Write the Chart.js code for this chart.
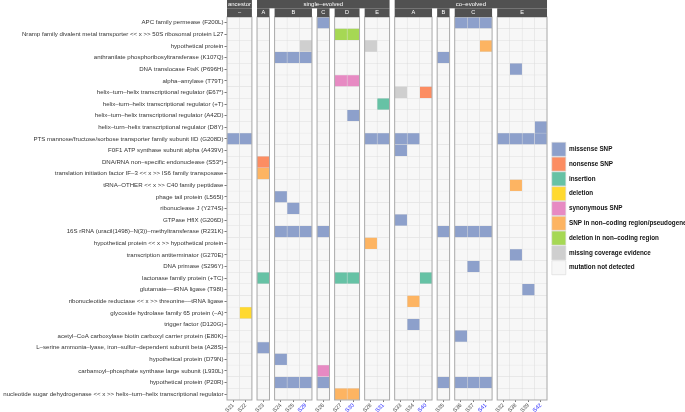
<!DOCTYPE html>
<html><head><meta charset="utf-8">
<script src="https://cdn.jsdelivr.net/npm/chart.js@4/dist/chart.umd.min.js"></script>
<style>html,body{margin:0;padding:0;background:#fff;overflow:hidden;}#wrap{width:685px;height:420px;}</style>
</head><body><div id="wrap"><canvas id="c" width="685" height="420"></canvas></div>
<script>
// ---------------- data ----------------
const geneLabels = [
  'APC family permease (F200L)',
  'Nramp family divalent metal transporter << x >> 50S ribosomal protein L27',
  'hypothetical protein',
  'anthranilate phosphoribosyltransferase (K107Q)',
  'DNA translocase FtsK (P696H)',
  'alpha–amylase (T79T)',
  'helix–turn–helix transcriptional regulator (E67*)',
  'helix–turn–helix transcriptional regulator (+T)',
  'helix–turn–helix transcriptional regulator (A42D)',
  'helix–turn–helix transcriptional regulator (D8Y)',
  'PTS mannose/fructose/sorbose transporter family subunit IID (G208D)',
  'F0F1 ATP synthase subunit alpha (A439V)',
  'DNA/RNA non–specific endonuclease (S53*)',
  'translation initiation factor IF–3 << x >> IS6 family transposase',
  'tRNA–OTHER << x >> C40 family peptidase',
  'phage tail protein (L565I)',
  'ribonuclease J (Y274S)',
  'GTPase HflX (G206D)',
  '16S rRNA (uracil(1498)–N(3))–methyltransferase (R231K)',
  'hypothetical protein << x >> hypothetical protein',
  'transcription antiterminator (G270E)',
  'DNA primase (S296Y)',
  'lactonase family protein (+TC)',
  'glutamate––tRNA ligase (T98I)',
  'ribonucleotide reductase << x >> threonine––tRNA ligase',
  'glycoside hydrolase family 65 protein (–A)',
  'trigger factor (D120G)',
  'acetyl–CoA carboxylase biotin carboxyl carrier protein (E80K)',
  'L–serine ammonia–lyase, iron–sulfur–dependent subunit beta (A28S)',
  'hypothetical protein (D79N)',
  'carbamoyl–phosphate synthase large subunit (L930L)',
  'hypothetical protein (P20R)',
  'nucleotide sugar dehydrogenase << x >> helix–turn–helix transcriptional regulator'
];
const samples = ['S21','S22','S23','S24','S25','S29','S26','S27','S30','S28','S31',
                 'S33','S34','S40','S35','S36','S37','S41','S32','S38','S39','S42'];
const highlightedSamples = ['S29','S30','S31','S40','S41','S42'];
const panelLetters = ['–','A','B','C','D','E','A','B','C','E'];
const panelSizes   = [2,1,3,1,2,2,3,1,3,4];
const panelGroup   = [0,1,1,1,1,1,2,2,2,2];
const groupNames   = ['ancestor','single–evolved','co–evolved'];
const typeCodes  = ['m','n','i','d','s','p','g','x','.'];
const typeNames  = ['missense SNP','nonsense SNP','insertion','deletion','synonymous SNP',
                    'SNP in non–coding region/pseudogene','deletion in non–coding region',
                    'missing coverage evidence','mutation not detected'];
const typeColors = ['#8DA0CB','#FC8D62','#66C2A5','#FFD92F','#E78AC3','#FDB462','#A6D854','#CFCFCF','#F7F7F7'];
// one string per gene row, one character per sample (panels separated by spaces)
const calls = [
  '.. . ... m .. .. ... . mmm ....',
  '.. . ... . gg .. ... . ... ....',
  '.. . ..x . .. x. ... . ..p ....',
  '.. . mmm . .. .. ... m ... ....',
  '.. . ... . .. .. ... . ... .m..',
  '.. . ... . ss .. ... . ... ....',
  '.. . ... . .. .. x.n . ... ....',
  '.. . ... . .. .i ... . ... ....',
  '.. . ... . .m .. ... . ... ....',
  '.. . ... . .. .. ... . ... ...m',
  'mm . ... . .. mm mm. . ... mmmm',
  '.. . ... . .. .. m.. . ... ....',
  '.. n ... . .. .. ... . ... ....',
  '.. p ... . .. .. ... . ... ....',
  '.. . ... . .. .. ... . ... .p..',
  '.. . m.. . .. .. ... . ... ....',
  '.. . .m. . .. .. ... . ... ....',
  '.. . ... . .. .. m.. . ... ....',
  '.. . mmm m .. .. ... m mmm ....',
  '.. . ... . .. p. ... . ... ....',
  '.. . ... . .. .. ... . ... .m..',
  '.. . ... . .. .. ... . .m. ....',
  '.. i ... . ii .. ..i . ... ....',
  '.. . ... . .. .. ... . ... ..m.',
  '.. . ... . .. .. .p. . ... ....',
  '.d . ... . .. .. ... . ... ....',
  '.. . ... . .. .. .m. . ... ....',
  '.. . ... . .. .. ... . m.. ....',
  '.. m ... . .. .. ... . ... ....',
  '.. . m.. . .. .. ... . ... ....',
  '.. . ... s .. .. ... . ... ....',
  '.. . mmm m .. .. ... m mmm ....',
  '.. . ... . pp .. ... . ... ....'
];

// ---------------- layout helpers ----------------
const GAP = 0.41;          // gap between facet panels, in column units
const RIGHT_PAD = 0.32;    // blank space right of last panel, in column units
const FONT = '"Liberation Sans", Arial, Helvetica, sans-serif';
const colStart = [], panelRange = [];
let pos = 0;
panelSizes.forEach(n => {
  const s = pos;
  for (let k = 0; k < n; k++) { colStart.push(pos); pos += 1; }
  panelRange.push([s, pos]);
  pos += GAP;
});
const totalUnits = pos - GAP;
const cells = calls.map(r => r.replace(/ /g, ''));

const datasets = samples.map((s, c) => ({
  label: s,
  data: cells.map(() => [colStart[c], colStart[c] + 1]),
  backgroundColor: cells.map(r => typeColors[typeCodes.indexOf(r[c])]),
  borderColor: '#dedede',
  borderWidth: 0.5,
  borderSkipped: false,
  barPercentage: 1,
  categoryPercentage: 1,
  grouped: false
}));

const stripPlugin = {
  id: 'strips',
  afterDraw(chart) {
    const {ctx, chartArea} = chart;
    const x = chart.scales.x;
    ctx.save();
    // panel borders
    ctx.strokeStyle = '#ababab';
    ctx.lineWidth = 1;
    panelRange.forEach(([a, b]) => {
      const l = x.getPixelForValue(a), r = x.getPixelForValue(b);
      ctx.strokeRect(l, chartArea.top, r - l, chartArea.bottom - chartArea.top);
    });
    const stripColor = '#515151';
    const y0 = 0, y1 = 8.3, y2 = chartArea.top;
    // group strips
    groupNames.forEach((g, gi) => {
      const ps = panelGroup.map((v, i) => v === gi ? i : -1).filter(i => i >= 0);
      const l = x.getPixelForValue(panelRange[ps[0]][0]);
      const r = x.getPixelForValue(panelRange[ps[ps.length - 1]][1]);
      ctx.fillStyle = stripColor;
      ctx.fillRect(l, y0, r - l, y1 - y0);
      ctx.save();
      ctx.beginPath(); ctx.rect(l, y0, r - l, y1 - y0); ctx.clip();
      ctx.fillStyle = '#ffffff';
      ctx.font = '6px ' + FONT;
      ctx.textAlign = 'center'; ctx.textBaseline = 'middle';
      ctx.fillText(g, (l + r) / 2, (y0 + y1) / 2 + 0.3);
      ctx.restore();
    });
    // panel strips
    panelRange.forEach(([a, b], i) => {
      const l = x.getPixelForValue(a), r = x.getPixelForValue(b);
      ctx.fillStyle = stripColor;
      ctx.fillRect(l, y1, r - l, y2 - y1);
      ctx.fillStyle = '#ffffff';
      ctx.font = '5.6px ' + FONT;
      ctx.textAlign = 'center'; ctx.textBaseline = 'middle';
      ctx.fillText(panelLetters[i], (l + r) / 2, (y1 + y2) / 2 + 0.2);
    });
    ctx.restore();
  }
};

new Chart(document.getElementById('c'), {
  type: 'bar',
  data: { labels: geneLabels, datasets },
  options: {
    indexAxis: 'y',
    responsive: false,
    devicePixelRatio: 1,
    animation: false,
    layout: { padding: { top: 17, left: 0, right: 0, bottom: 0 } },
    plugins: {
      tooltip: { enabled: false },
      legend: {
        position: 'right',
        fullSize: false,
        maxWidth: 134,
        align: 'center',
        labels: {
          boxWidth: 14,
          boxHeight: 14,
          padding: 0.8,
          font: { size: 6.3, weight: 'bold', family: FONT },
          color: '#111',
          generateLabels: () => typeNames.map((t, i) => ({
            text: t, fillStyle: typeColors[i], strokeStyle: '#d6d6d6', lineWidth: 0.6,
            fontColor: '#111', hidden: false, datasetIndex: 0
          }))
        }
      }
    },
    scales: {
      x: {
        type: 'linear',
        min: 0,
        max: totalUnits + RIGHT_PAD,
        afterBuildTicks: s => { s.ticks = colStart.map(v => ({ value: v + 0.5 })); },
        afterFit: s => { s.height = 20; },
        grid: { display: true, drawOnChartArea: false, tickLength: 2, color: '#555', lineWidth: 0.8 },
        border: { display: false },
        ticks: {
          autoSkip: false,
          minRotation: 45, maxRotation: 45,
          padding: 0,
          font: { size: 5.6, family: FONT },
          color: c => highlightedSamples.includes(samples[c.index]) ? '#1f1fff' : '#4d4d4d',
          callback: (v, i) => samples[i]
        }
      },
      y: {
        type: 'category',
        offset: true,
        afterFit: s => { s.width = 227; },
        grid: { display: true, offset: false, drawOnChartArea: false, tickLength: 2.5, color: '#555', lineWidth: 0.8 },
        border: { display: false },
        ticks: {
          autoSkip: false,
          padding: 1,
          font: { size: 6.1, family: FONT },
          color: '#333'
        }
      }
    }
  },
  plugins: [stripPlugin]
});
</script>
</body></html>
